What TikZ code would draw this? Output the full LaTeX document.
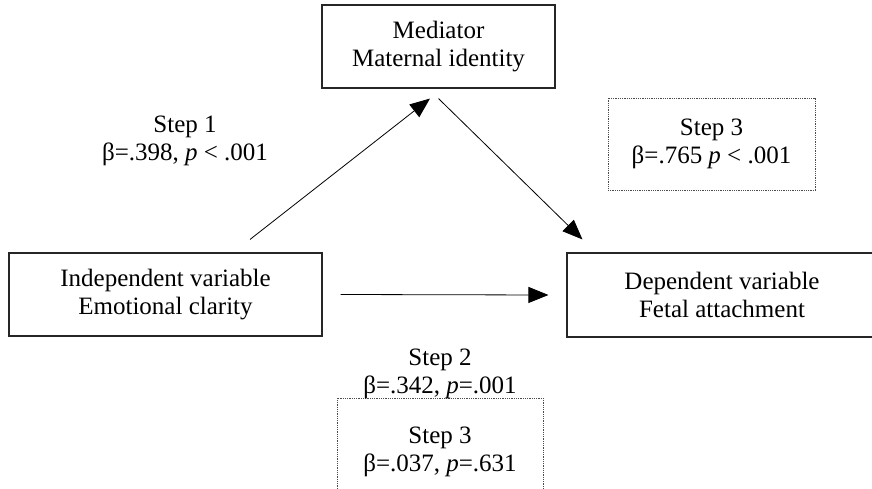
\documentclass[tikz,border=0pt]{standalone}
\usepackage{fontspec}
\setmainfont{Liberation Serif}
\usetikzlibrary{arrows.meta}
\begin{document}
\begin{tikzpicture}[x=1pt,y=-1pt,
  font=\fontsize{25}{28}\selectfont,
  box/.style={draw=black!85,line width=1.1pt,align=center,inner sep=0pt},
  dotbox/.style={draw=black!70,line width=0.9pt,dash pattern=on 0.9pt off 0.9pt,align=center,inner sep=0pt},
  arr/.style={-{Triangle[length=20pt,width=16pt]},line width=0.8pt}]
\useasboundingbox (0,0) rectangle (872,489);
\node[box,minimum width=233pt,minimum height=83pt](med) at (438.5,46.5){Mediator\\Maternal identity};
\node[box,minimum width=313pt,minimum height=83pt](iv) at (165.5,294.5){Independent variable\\Emotional clarity};
\node[box,minimum width=310pt,minimum height=84pt](dv) at (722,295){Dependent variable\\Fetal attachment};
\node[dotbox,minimum width=207pt,minimum height=92pt](s3a) at (711.5,144){Step 3\\β=.765 \textit{p} < .001};
\node[dotbox,minimum width=206pt,minimum height=108pt](s3b) at (440,452){Step 3\\β=.037, \textit{p}=.631};
\node[align=center](s1) at (185,141){Step 1\\β=.398, \textit{p} < .001};
\node[align=center](s2) at (440,374){Step 2\\β=.342, \textit{p}=.001};
\draw[arr] ([xshift=84.5pt,yshift=13pt]iv.north) -- ([xshift=-8.5pt,yshift=-10pt]med.south);
\draw[arr] ([yshift=-10pt]med.south) -- ([xshift=16pt,yshift=13pt]dv.north west);
\draw[arr] ([xshift=18pt]iv.east) -- ([xshift=-18pt]dv.west);
\end{tikzpicture}
\end{document}
